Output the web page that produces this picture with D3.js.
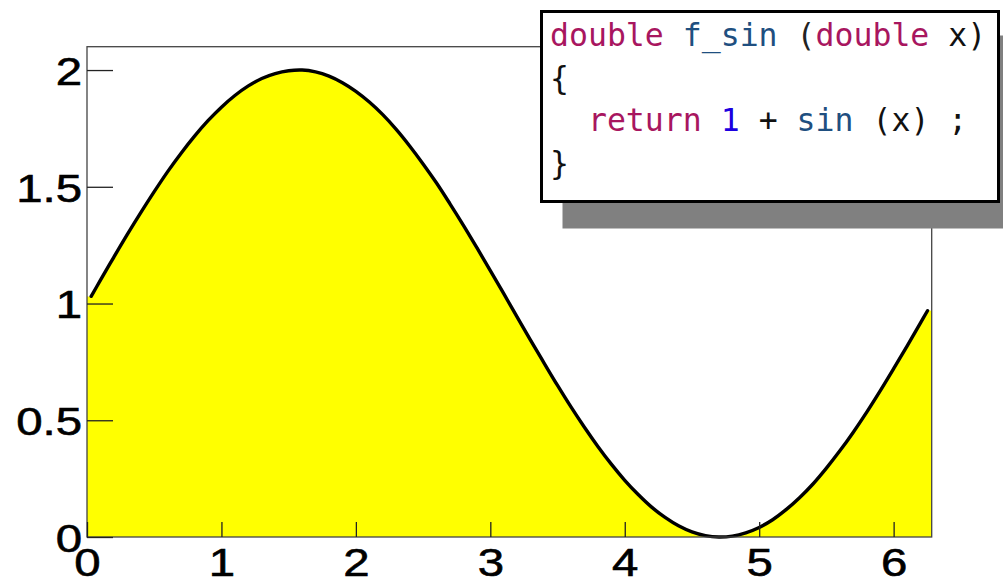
<!DOCTYPE html>
<html>
<head>
<meta charset="utf-8">
<script src="https://cdn.jsdelivr.net/npm/d3@7"></script>
<style>
  html, body { margin: 0; padding: 0; background: #fff; }
  svg { display: block; }
</style>
</head>
<body>
<svg id="chart" width="1003" height="580"></svg>
<script>
// Sampled values of f_sin(x) = 1 + sin(x) over [0, 2π]
const xValues = [
  0.031, 0.1, 0.2, 0.3, 0.4, 0.5, 0.6, 0.7, 0.8, 0.9,
  1.0, 1.1, 1.2, 1.3, 1.4, 1.5, 1.6, 1.7, 1.8, 1.9,
  2.0, 2.1, 2.2, 2.3, 2.4, 2.5, 2.6, 2.7, 2.8, 2.9,
  3.0, 3.1, 3.2, 3.3, 3.4, 3.5, 3.6, 3.7, 3.8, 3.9,
  4.0, 4.1, 4.2, 4.3, 4.4, 4.5, 4.6, 4.7, 4.8, 4.9,
  5.0, 5.1, 5.2, 5.3, 5.4, 5.5, 5.6, 5.7, 5.8, 5.9,
  6.0, 6.1, 6.2, 6.252
];
const yValues = [
  1.031, 1.100, 1.199, 1.296, 1.389, 1.479, 1.565, 1.644, 1.717, 1.783,
  1.841, 1.891, 1.932, 1.964, 1.985, 1.997, 2.000, 1.992, 1.974, 1.946,
  1.909, 1.863, 1.809, 1.746, 1.675, 1.598, 1.516, 1.427, 1.335, 1.239,
  1.141, 1.042, 0.942, 0.842, 0.745, 0.649, 0.557, 0.470, 0.388, 0.312,
  0.243, 0.182, 0.128, 0.084, 0.048, 0.022, 0.006, 0.000, 0.004, 0.018,
  0.041, 0.074, 0.117, 0.168, 0.227, 0.295, 0.369, 0.449, 0.535, 0.626,
  0.721, 0.818, 0.917, 0.969
];

const xDomain = [0, 6.2832];
const yDomain = [0, 2.1];
const xTicks = [0, 1, 2, 3, 4, 5, 6];
const yTicks = [0, 0.5, 1, 1.5, 2];
const yTickLabels = ["0", "0.5", "1", "1.5", "2"];

// Source listing shown in the inset, one array of [text, colour] runs per line
const codeLines = [
  [["double", "#a8165f"], [" ", "#000"], ["f_sin", "#1f4f80"], [" (", "#222"], ["double", "#a8165f"], [" x)", "#111"]],
  [["{", "#111"]],
  [["  ", "#000"], ["return", "#a8165f"], [" ", "#000"], ["1", "#1c00e0"], [" + ", "#111"], ["sin", "#1f4f80"], [" (x) ;", "#111"]],
  [["}", "#111"]]
];

const svg = d3.select("#chart");
const frame = { left: 87, top: 46.7, right: 931.7, bottom: 537 };
const labelStretch = 1.2;   // tick labels are drawn wide

const x = d3.scaleLinear().domain(xDomain).range([frame.left, frame.right]);
const y = d3.scaleLinear().domain(yDomain).range([frame.bottom, frame.top]);

const points = xValues.map((xv, i) => ({ x: xv, y: yValues[i] }));

// Filled area under the curve, closed against the frame edges
const fillPoints = [{ x: xDomain[0], y: yValues[0] }, ...points, { x: xDomain[1], y: yValues[yValues.length - 1] }];
const area = d3.area()
  .x(d => x(d.x))
  .y0(y(0))
  .y1(d => y(d.y))
  .curve(d3.curveCatmullRom);

svg.append("path")
  .datum(fillPoints)
  .attr("d", area)
  .attr("fill", "#ffff00")
  .attr("stroke", "none");

const line = d3.line()
  .x(d => x(d.x))
  .y(d => y(d.y))
  .curve(d3.curveCatmullRom);

svg.append("path")
  .datum(points)
  .attr("d", line)
  .attr("fill", "none")
  .attr("stroke", "#000")
  .attr("stroke-width", 3.4)
  .attr("stroke-linejoin", "round")
  .attr("stroke-linecap", "round");

// Frame
svg.append("rect")
  .attr("x", frame.left)
  .attr("y", frame.top)
  .attr("width", frame.right - frame.left)
  .attr("height", frame.bottom - frame.top)
  .attr("fill", "none")
  .attr("stroke", "#444")
  .attr("stroke-width", 1.3);

// Y axis: ticks point inward
const yAxis = d3.axisRight(y)
  .tickValues(yTicks)
  .tickSize(26)
  .tickFormat((d, i) => yTickLabels[i]);

const yAxisG = svg.append("g")
  .attr("transform", `translate(${frame.left},0)`)
  .call(yAxis);
yAxisG.select(".domain").remove();
yAxisG.selectAll(".tick line").attr("stroke", "#222").attr("stroke-width", 1.3);
yAxisG.selectAll(".tick text")
  .attr("x", -5 / labelStretch)
  .attr("dy", "0.36em")
  .attr("transform", `scale(${labelStretch},1)`)
  .attr("text-anchor", "end")
  .attr("fill", "#000")
  .attr("stroke", "#000")
  .attr("stroke-width", 0.6)
  .style("font-family", "'Liberation Sans', Arial, sans-serif")
  .style("font-size", "39.5px");

// X axis: ticks point inward
const xAxis = d3.axisTop(x)
  .tickValues(xTicks)
  .tickSize(15)
  .tickFormat(d3.format("d"));

const xAxisG = svg.append("g")
  .attr("transform", `translate(0,${frame.bottom})`)
  .call(xAxis);
xAxisG.select(".domain").remove();
xAxisG.selectAll(".tick line").attr("stroke", "#222").attr("stroke-width", 1.3);
xAxisG.selectAll(".tick text")
  .attr("x", 0)
  .attr("y", 39.5)
  .attr("dy", 0)
  .attr("transform", `scale(${labelStretch},1)`)
  .attr("text-anchor", "middle")
  .attr("fill", "#000")
  .attr("stroke", "#000")
  .attr("stroke-width", 0.6)
  .style("font-family", "'Liberation Sans', Arial, sans-serif")
  .style("font-size", "39.5px");

// Inset with source code and drop shadow
const box = { x: 541.5, y: 11.5, w: 457, h: 190 };
svg.append("rect")
  .attr("x", box.x + 21)
  .attr("y", box.y + 24)
  .attr("width", box.w + 40)
  .attr("height", box.h + 3)
  .attr("fill", "#808080");
svg.append("rect")
  .attr("x", box.x)
  .attr("y", box.y)
  .attr("width", box.w)
  .attr("height", box.h)
  .attr("fill", "#fff")
  .attr("stroke", "#000")
  .attr("stroke-width", 3);

const code = svg.append("text")
  .attr("x", 550)
  .attr("y", 46)
  .attr("xml:space", "preserve")
  .style("white-space", "pre")
  .style("font-family", "'DejaVu Sans Mono', monospace")
  .style("font-size", "31.5px");

codeLines.forEach((runs, li) => {
  runs.forEach((run, ri) => {
    const t = code.append("tspan")
      .attr("fill", run[1])
      .text(run[0]);
    if (ri === 0) t.attr("x", 550).attr("y", 46 + li * 42.5);
  });
});
</script>
</body>
</html>
